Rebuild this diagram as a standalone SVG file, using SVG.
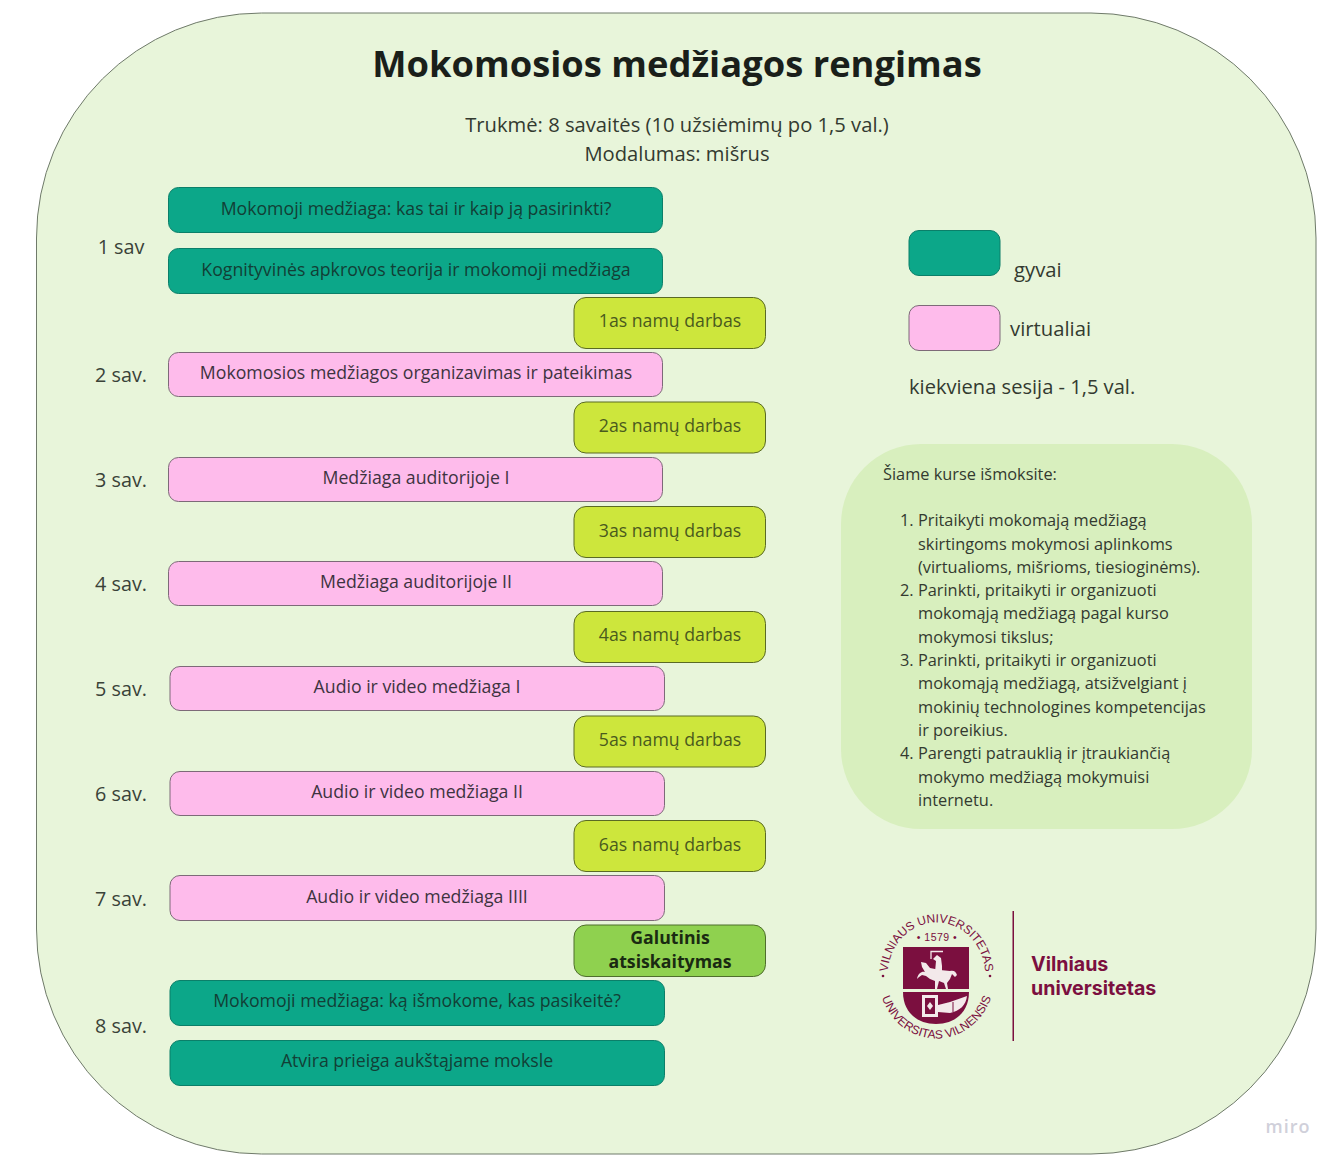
<svg xmlns="http://www.w3.org/2000/svg" width="1340" height="1165" viewBox="0 0 1340 1165">
<style>
text{font-family:"Open Sans","Liberation Sans",sans-serif;fill:#2b3229;font-size:17.700px}
.c{text-anchor:middle}
.wk{font-size:19.800px;fill:#3a4238}
.box{stroke-width:1}
.live{fill:#0ca789;stroke:#0b7f69}
.virt{fill:#febbeb;stroke:#7d6a78}
.hw{fill:#cde63c;stroke:#5a6a24}
.live-t{fill:#123f36}
.virt-t{fill:#3d3340}
.hw-t{fill:#4a5a1e}
.lg{font-size:20.300px;fill:#333a30}
.obj{font-size:16.350px;fill:#333a30}
.seal{font-family:"Liberation Sans",sans-serif;font-size:12px;fill:#7b0f3f}
.w{fill:#f3e9ea}
</style>
<defs>
<path id="sealTop" d="M899 1011.200A49 54 0 1 1 974 1011.200"/>
<path id="sealBot" d="M879.600 964.500A58 62 0 1 0 993.400 964.500"/>
</defs>
<g id="background"><rect x="36.500" y="13" width="1279.500" height="1141" rx="225" ry="225" fill="#e8f5da" stroke="#6f7a6a" stroke-width="1"/></g>
<g id="connectors"></g>
<g id="title">
<text class="c" x="677" y="77" style="font-size:36.350px;font-weight:700;fill:#1a1f1a">Mokomosios medžiagos rengimas</text>
<text class="c" x="677" y="132" style="font-size:20.200px;fill:#333a30">Trukmė: 8 savaitės (10 užsiėmimų po 1,5 val.)</text>
<text class="c" x="677" y="161" style="font-size:20.200px;fill:#333a30">Modalumas: mišrus</text>
</g>
<g id="weeks">
<text class="c wk" x="121" y="254">1 sav</text>
<text class="c wk" x="121" y="382">2 sav.</text>
<text class="c wk" x="121" y="487">3 sav.</text>
<text class="c wk" x="121" y="591">4 sav.</text>
<text class="c wk" x="121" y="696">5 sav.</text>
<text class="c wk" x="121" y="801">6 sav.</text>
<text class="c wk" x="121" y="906">7 sav.</text>
<text class="c wk" x="121" y="1033">8 sav.</text>
</g>
<g id="s1"><rect class="box live" x="168.500" y="187.500" width="494" height="45" rx="10"/><text class="c live-t" x="416" y="215">Mokomoji medžiaga: kas tai ir kaip ją pasirinkti?</text></g>
<g id="s2"><rect class="box live" x="168.500" y="248.500" width="494" height="45" rx="10"/><text class="c live-t" x="416" y="276">Kognityvinės apkrovos teorija ir mokomoji medžiaga</text></g>
<g id="hw1"><rect class="box hw" x="574" y="297.500" width="191.500" height="51" rx="12"/><text class="c hw-t" x="670" y="327">1as namų darbas</text></g>
<g id="s3"><rect class="box virt" x="168.500" y="352.500" width="494" height="44" rx="10"/><text class="c virt-t" x="416" y="379">Mokomosios medžiagos organizavimas ir pateikimas</text></g>
<g id="hw2"><rect class="box hw" x="574" y="402" width="191.500" height="51" rx="12"/><text class="c hw-t" x="670" y="432">2as namų darbas</text></g>
<g id="s4"><rect class="box virt" x="168.500" y="457.500" width="494" height="44" rx="10"/><text class="c virt-t" x="416" y="484">Medžiaga auditorijoje I</text></g>
<g id="hw3"><rect class="box hw" x="574" y="506.500" width="191.500" height="51" rx="12"/><text class="c hw-t" x="670" y="537">3as namų darbas</text></g>
<g id="s5"><rect class="box virt" x="168.500" y="561.500" width="494" height="44" rx="10"/><text class="c virt-t" x="416" y="588">Medžiaga auditorijoje II</text></g>
<g id="hw4"><rect class="box hw" x="574" y="611.500" width="191.500" height="51" rx="12"/><text class="c hw-t" x="670" y="641">4as namų darbas</text></g>
<g id="s6"><rect class="box virt" x="170" y="666.500" width="494.500" height="44" rx="10"/><text class="c virt-t" x="417" y="693">Audio ir video medžiaga I</text></g>
<g id="hw5"><rect class="box hw" x="574" y="716" width="191.500" height="51" rx="12"/><text class="c hw-t" x="670" y="746">5as namų darbas</text></g>
<g id="s7"><rect class="box virt" x="170" y="771.500" width="494.500" height="44" rx="10"/><text class="c virt-t" x="417" y="798">Audio ir video medžiaga II</text></g>
<g id="hw6"><rect class="box hw" x="574" y="820.500" width="191.500" height="51" rx="12"/><text class="c hw-t" x="670" y="851">6as namų darbas</text></g>
<g id="s8"><rect class="box virt" x="170" y="875.500" width="494.500" height="45" rx="10"/><text class="c virt-t" x="417" y="903">Audio ir video medžiaga IIII</text></g>
<g id="final"><rect class="box" x="574" y="925" width="191.500" height="51.500" rx="12" fill="#8fd14f" stroke="#4f6e2c"/><text class="c" x="670" y="944" style="font-weight:700;fill:#1a2a12">Galutinis</text><text class="c" x="670" y="968" style="font-weight:700;fill:#1a2a12">atsiskaitymas</text></g>
<g id="s9"><rect class="box live" x="170" y="980.500" width="494.500" height="45" rx="10"/><text class="c live-t" x="417" y="1007">Mokomoji medžiaga: ką išmokome, kas pasikeitė?</text></g>
<g id="s10"><rect class="box live" x="170" y="1040.500" width="494.500" height="45" rx="10"/><text class="c live-t" x="417" y="1067">Atvira prieiga aukštąjame moksle</text></g>
<g id="legend">
<rect class="box live" x="909" y="230.500" width="91" height="45" rx="10"/>
<text class="lg" x="1014" y="277">gyvai</text>
<rect class="box virt" x="909" y="305.500" width="91" height="45" rx="10"/>
<text class="lg" x="1010" y="336">virtualiai</text>
<text class="lg" x="909" y="394" style="font-size:20.100px">kiekviena sesija - 1,5 val.</text>
</g>
<g id="objectives">
<rect x="841" y="444" width="411" height="385" rx="80" fill="#d8efbe"/>
<text class="obj" x="883" y="480">Šiame kurse išmoksite:</text>
<text class="obj" x="900" y="526">1. Pritaikyti mokomają medžiagą</text>
<text class="obj" x="918" y="550">skirtingoms mokymosi aplinkoms</text>
<text class="obj" x="918" y="573">(virtualioms, mišrioms, tiesioginėms).</text>
<text class="obj" x="900" y="596">2. Parinkti, pritaikyti ir organizuoti</text>
<text class="obj" x="918" y="619">mokomąją medžiagą pagal kurso</text>
<text class="obj" x="918" y="643">mokymosi tikslus;</text>
<text class="obj" x="900" y="666">3. Parinkti, pritaikyti ir organizuoti</text>
<text class="obj" x="918" y="689">mokomąją medžiagą, atsižvelgiant į</text>
<text class="obj" x="918" y="713">mokinių technologines kompetencijas</text>
<text class="obj" x="918" y="736">ir poreikius.</text>
<text class="obj" x="900" y="759">4. Parengti patrauklią ir įtraukiančią</text>
<text class="obj" x="918" y="783">mokymo medžiagą mokymuisi</text>
<text class="obj" x="918" y="806">internetu.</text>
</g>
<g id="logo">
<text class="seal" text-anchor="middle"><textPath href="#sealTop" startOffset="50%">VILNIAUS UNIVERSITETAS</textPath></text>
<text class="seal" text-anchor="middle"><textPath href="#sealBot" startOffset="50%">UNIVERSITAS VILNENSIS</textPath></text>
<text x="937" y="941" text-anchor="middle" style="font-family:'Liberation Sans',sans-serif;font-size:10.500px;fill:#7b0f3f;letter-spacing:.5px">• 1579 •</text>
<circle cx="883" cy="976" r="1.300" fill="#7b0f3f"/><circle cx="990" cy="976" r="1.300" fill="#7b0f3f"/>
<path d="M903 947H969V989H903Z" fill="#7b0f3f"/>
<path d="M903 992H969C969 1012 955 1024 936 1024C917 1024 903 1012 903 992Z" fill="#7b0f3f"/>
<path class="w" d="M917 979C918 973 922 971 925 972L922 967L921 962L926 963L930 968L940 970L950 971C953 970 956 971 957 975L955 977L952 974L950 979L947 983L948 989H946L944 983L939 981L937 989H935L935 981L930 979L926 976L922 975C920 976 918 978 917 979Z"/>
<path class="w" d="M935 972L936 961L933 959L937 955L941 958L942 966L942 973Z"/>
<path d="M931 959V951.500H943" stroke="#f3e9ea" stroke-width="1.300" fill="none"/>
<rect class="w" x="922" y="995" width="16" height="22"/>
<rect x="925" y="998" width="10" height="16" fill="#7b0f3f"/>
<path class="w" d="M930 1002L933 1006L930 1010L927 1006Z"/>
<path class="w" d="M938 1005L950 1002L967 996C966 1005 960 1011 950 1013L938 1012Z"/>
<path d="M953 1002V1012" stroke="#7b0f3f" stroke-width="1"/>
<rect x="1012.500" y="911" width="1.500" height="130" fill="#7b0f3f"/>
<text x="1031" y="971" style="font-family:'Inter','Liberation Sans',sans-serif;font-weight:700;font-size:19.600px;fill:#7b0f3f">Vilniaus</text>
<text x="1031" y="995" style="font-family:'Inter','Liberation Sans',sans-serif;font-weight:700;font-size:19.600px;fill:#7b0f3f">universitetas</text>
</g>
<g id="watermark"><text x="1288" y="1133" class="c" style="font-size:18px;font-weight:600;fill:#d0d0da;letter-spacing:1px">miro</text></g>
</svg>
